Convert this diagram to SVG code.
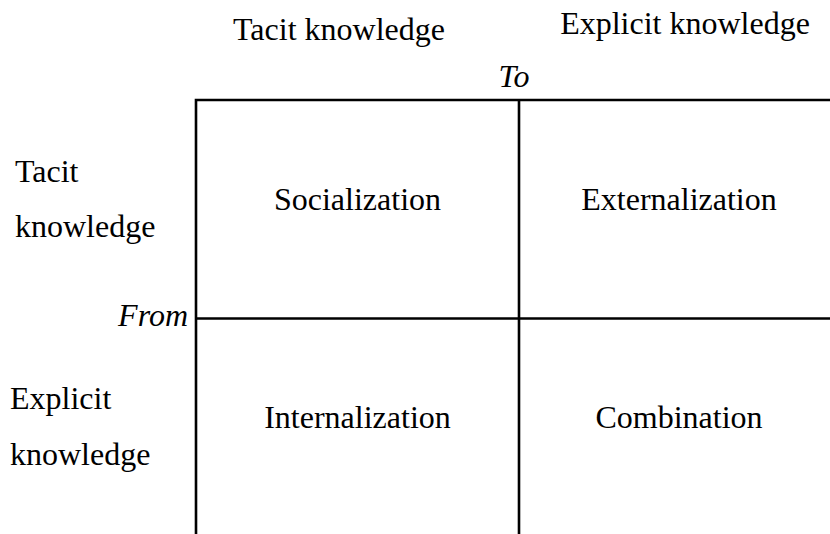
<svg xmlns="http://www.w3.org/2000/svg" width="830" height="534" viewBox="0 0 830 534">
<style>
text{font-family:"Liberation Serif","Times New Roman",serif;font-size:32px;fill:#000}
.c{text-anchor:middle}
.i{font-style:italic}
.ln{stroke:#000;stroke-width:2.6;fill:none}
</style>
<rect width="830" height="534" fill="#fff"/>
<g id="connectors">
<path class="ln" d="M196,534 V100 H830"/>
<path class="ln" d="M196,318.5 H830"/>
<path class="ln" d="M519,100 V534"/>
</g>
<g id="header-tacit"><text class="c" x="339" y="40">Tacit knowledge</text></g>
<g id="header-explicit"><text class="c" x="685" y="34">Explicit knowledge</text></g>
<g id="label-to"><text class="c i" x="514" y="87">To</text></g>
<g id="label-from"><text class="i" x="188" y="326" text-anchor="end">From</text></g>
<g id="row-tacit"><text x="15" y="182">Tacit</text><text x="15" y="237">knowledge</text></g>
<g id="row-explicit"><text x="10" y="409">Explicit</text><text x="10" y="465">knowledge</text></g>
<g id="socialization"><text class="c" x="357.5" y="210">Socialization</text></g>
<g id="externalization"><text class="c" x="679" y="210">Externalization</text></g>
<g id="internalization"><text class="c" x="357.5" y="428">Internalization</text></g>
<g id="combination"><text class="c" x="679" y="428">Combination</text></g>
</svg>
